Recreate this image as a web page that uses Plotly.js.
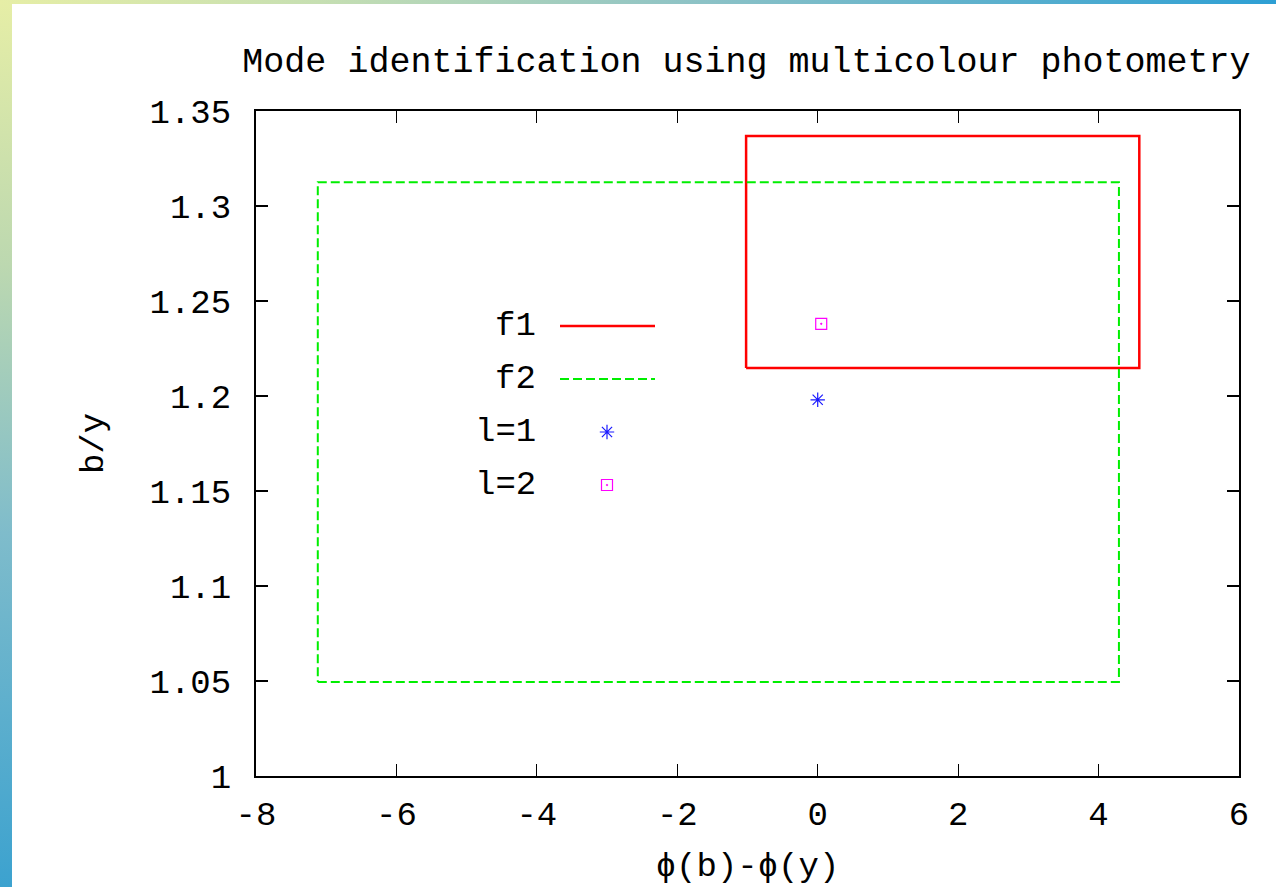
<!DOCTYPE html>
<html>
<head>
<meta charset="utf-8">
<script src="https://cdn.plot.ly/plotly-3.0.1.min.js"></script>
<style>
  html, body { margin: 0; padding: 0; width: 1276px; height: 887px; overflow: hidden; background: #ffffff; }
  #leftStrip { position: absolute; left: 0; top: 0; width: 12px; height: 887px;
    background: linear-gradient(to bottom, #e6eea6 0%, #bcd8b0 30%, #7fbccb 60%, #3ca2cf 100%); }
  #topStrip { position: absolute; left: 0; top: 0; width: 1276px; height: 4px;
    background: linear-gradient(to right, #e6eea6 0%, #c6dfb2 25%, #8cc2c6 55%, #2d9fd4 100%); }
  #chart { position: absolute; left: 0; top: 0; width: 1276px; height: 887px; }
</style>
</head>
<body>
<div id="leftStrip"></div>
<div id="topStrip"></div>
<div id="chart"></div>
<script>
// ---- data ----
const f1X = [-1.02, 4.58, 4.58, -1.02, -1.02];
const f1Y = [1.2147, 1.2147, 1.3368, 1.3368, 1.2147];
const f2X = [-7.12, 4.29, 4.29, -7.12, -7.12];
const f2Y = [1.0495, 1.0495, 1.3125, 1.3125, 1.0495];
const l1X = [0.0];
const l1Y = [1.198];
const l2X = [0.05];
const l2Y = [1.238];
const xTickVals = [-8, -6, -4, -2, 0, 2, 4, 6];
const xTickLabels = ["-8", "-6", "-4", "-2", "0", "2", "4", "6"];
const yTickVals = [1, 1.05, 1.1, 1.15, 1.2, 1.25, 1.3, 1.35];
const yTickLabels = ["1", "1.05", "1.1", "1.15", "1.2", "1.25", "1.3", "1.35"];
const legendNames = ["f1", "f2", "l=1", "l=2"];
const titleText = "Mode identification using multicolour photometry";
const xTitle = "\u03d5(b)-\u03d5(y)";
const yTitle = "b/y";

const FONT = "Liberation Mono, Courier New, monospace";
const FS = 34;

// legend geometry (paper coordinates of the key box)
const W = 983, H = 665, L = 256, T = 111;
const px = v => (v - L) / W;
const py = v => (T + H - v) / H;
const rowY = [326, 379, 432, 485];

const traces = [
  { x: f1X, y: f1Y, mode: 'lines', name: legendNames[0], showlegend: false,
    line: { color: '#ff0000', width: 2.5 } },
  { x: f2X, y: f2Y, mode: 'lines', name: legendNames[1], showlegend: false,
    line: { color: '#00ee00', width: 2, dash: '9px,4px' } },
  { x: l1X, y: l1Y, mode: 'markers', name: legendNames[2], showlegend: false,
    marker: { symbol: 'asterisk-open', size: 12, color: '#1a1aff', line: { color: '#1a1aff', width: 1.2 } } },
  { x: l2X, y: l2Y, mode: 'markers', name: legendNames[3], showlegend: false,
    marker: { symbol: 'square-open-dot', size: 11, color: '#ff00ff', line: { color: '#ff00ff', width: 1.2 } } },
  // legend sample markers on an overlay paper-like axis
  { x: [px(607)], y: [py(rowY[2])], xaxis: 'x2', yaxis: 'y2', mode: 'markers', showlegend: false, hoverinfo: 'skip',
    marker: { symbol: 'asterisk-open', size: 12, color: '#1a1aff', line: { color: '#1a1aff', width: 1.2 } } },
  { x: [px(607)], y: [py(rowY[3])], xaxis: 'x2', yaxis: 'y2', mode: 'markers', showlegend: false, hoverinfo: 'skip',
    marker: { symbol: 'square-open-dot', size: 11, color: '#ff00ff', line: { color: '#ff00ff', width: 1.2 } } }
];

const annotations = legendNames.map((n, i) => ({
  xref: 'paper', yref: 'paper', x: px(538), y: py(rowY[i]), xanchor: 'right', yanchor: 'middle',
  text: n, showarrow: false, font: { family: FONT, size: FS, color: '#000' }
}));

const shapes = [
  { type: 'line', xref: 'paper', yref: 'paper', x0: px(560), x1: px(655), y0: py(rowY[0]), y1: py(rowY[0]),
    line: { color: '#ff0000', width: 2.5 } },
  { type: 'line', xref: 'paper', yref: 'paper', x0: px(560), x1: px(655), y0: py(rowY[1]), y1: py(rowY[1]),
    line: { color: '#00ee00', width: 2, dash: '9px,4px' } }
];

const axisCommon = {
  showgrid: false, zeroline: false, showline: true, mirror: 'ticks',
  linecolor: '#000', linewidth: 2, ticks: 'inside', ticklen: 12, tickwidth: 1.2, tickcolor: '#000',
  tickfont: { family: FONT, size: FS, color: '#000' }
};

const layout = {
  width: 1276, height: 887,
  paper_bgcolor: 'rgba(0,0,0,0)', plot_bgcolor: '#ffffff',
  margin: { l: L, r: 1276 - L - W, t: T, b: 887 - T - H },
  showlegend: false,
  font: { family: FONT, size: FS, color: '#000' },
  title: { text: titleText, x: 0.585, xanchor: 'center', y: 0.933, yanchor: 'middle',
    font: { family: FONT, size: 35, color: '#000' } },
  xaxis: Object.assign({}, axisCommon, {
    range: [-8, 6], tickvals: xTickVals, ticktext: xTickLabels, ticklabelstandoff: 6,
    title: { text: xTitle, standoff: 18, font: { family: FONT, size: FS, color: '#000' } }
  }),
  yaxis: Object.assign({}, axisCommon, {
    range: [1, 1.35], tickvals: yTickVals, ticktext: yTickLabels, ticklabelstandoff: 16,
    title: { text: yTitle, standoff: 36, font: { family: FONT, size: FS, color: '#000' } }
  }),
  xaxis2: { overlaying: 'x', range: [0, 1], visible: false, fixedrange: true },
  yaxis2: { overlaying: 'y', range: [0, 1], visible: false, fixedrange: true },
  annotations: annotations,
  shapes: shapes
};

Plotly.newPlot('chart', traces, layout, { displayModeBar: false, staticPlot: true });
</script>
</body>
</html>
